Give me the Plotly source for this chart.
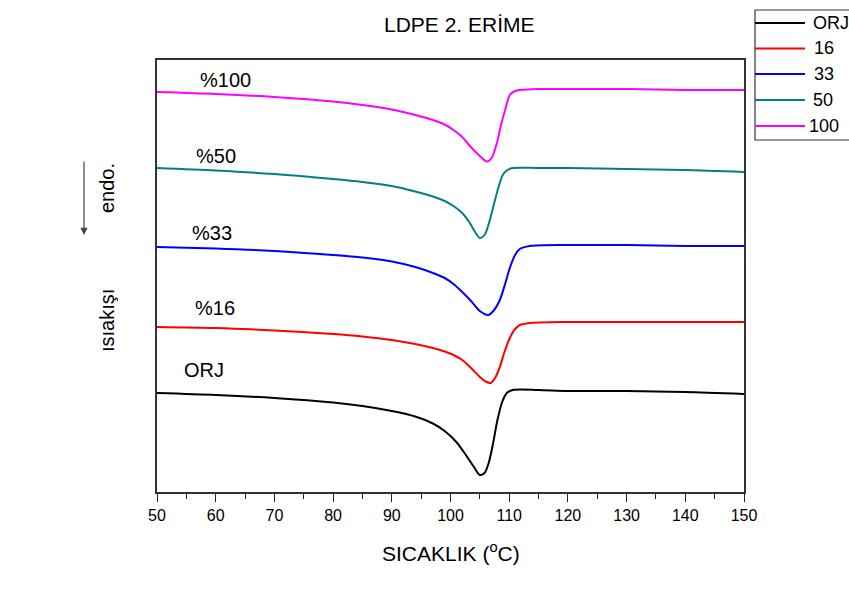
import plotly.graph_objects as go

# DSC second-melting curves of LDPE samples (heat flow, arbitrary units, stacked)
temp_orj = [50, 60, 70, 80, 85, 90, 94, 97, 99, 101, 102.5, 104, 105, 105.8, 106.5, 107.2, 108,
            108.8, 109.6, 110.6, 115, 120, 130, 140, 150]
flow_orj = [99, 97, 94, 89.5, 86, 81, 75.5, 68.5, 61, 50, 38, 25, 17, 19, 29, 47, 72,
            90, 99, 102, 102, 101, 101, 100, 98]

temp_16 = [50, 60, 70, 80, 85, 90, 94, 97, 99, 100.5, 102, 103.5, 105, 106, 106.8, 107.6, 108.4,
           109.2, 110.1, 111, 111.8, 113.5, 120, 130, 140, 150]
flow_16 = [165, 164, 161.5, 158, 155.5, 152, 148, 144, 140.5, 137, 132, 124, 115, 110.5, 109,
           114, 125, 140, 154, 163, 167, 169, 170, 170, 170, 170]

temp_33 = [50, 60, 70, 80, 85, 90, 94, 97, 99, 100.5, 102, 103.5, 105, 106.4, 107.3, 108.4,
           109.3, 110.1, 111, 111.8, 113.5, 120, 130, 140, 150]
flow_33 = [245, 243.5, 241, 237, 234.5, 230.5, 225, 219, 214, 208, 200, 191, 181, 177, 181,
           192, 208, 224, 237, 243, 246, 247, 247, 246, 246]

temp_50 = [50, 60, 70, 80, 85, 90, 94, 97, 99, 100.5, 102, 103.3, 104.3, 105, 105.8, 106.7,
           107.9, 108.9, 109.7, 110.6, 115, 120, 130, 140, 150]
flow_50 = [324, 321.5, 318, 313, 310, 306, 300.5, 295.5, 291, 286, 279, 269, 259, 254, 257,
           272, 299, 317, 322, 324, 324, 324, 323, 322, 320]

temp_100 = [50, 60, 70, 80, 85, 90, 94, 97, 99, 100.5, 102, 103.3, 105, 106.2, 107, 107.9,
            108.6, 109.3, 110.1, 111, 111.8, 115, 120, 130, 140, 150]
flow_100 = [400, 398, 395, 390.5, 387, 382.5, 377, 372, 367.5, 362, 355, 346, 336, 330.5, 334,
            349, 367, 382, 397, 401, 402, 403, 403, 403, 402, 402]

series_names = ["ORJ", "16", "33", "50", "100"]
series_temps = [temp_orj, temp_16, temp_33, temp_50, temp_100]
series_flows = [flow_orj, flow_16, flow_33, flow_50, flow_100]
series_colors = ["#000000", "#FF0000", "#0000FF", "#008080", "#FF00FF"]

# In-plot curve labels: text, start temperature, heat-flow level
label_texts = ["%100", "%50", "%33", "%16", "ORJ"]
label_x = [57.0, 56.3, 55.6, 56.1, 54.3]
label_y = [412, 336, 259, 184, 122]

x_ticks = [50, 60, 70, 80, 90, 100, 110, 120, 130, 140, 150]

FONT = "Arial, Liberation Sans, sans-serif"

# Figure geometry (pixels) used for the decorations placed outside the axes
W, H = 849, 589
ML, MR, MT, MB = 157, 105, 60, 97
PW, PH = W - ML - MR, H - MT - MB


def px_x(px):
    return (px - ML) / PW


def px_y(py):
    return (H - MB - py) / PH


fig = go.Figure()
for name, t, f, c in zip(series_names, series_temps, series_flows, series_colors):
    fig.add_trace(go.Scatter(
        x=t, y=f, name=name, mode="lines", showlegend=False,
        line=dict(color=c, width=2, shape="spline", smoothing=0.8),
    ))

annotations = []
for txt, lx, ly in zip(label_texts, label_x, label_y):
    annotations.append(dict(
        x=lx, y=ly, xref="x", yref="y", text=txt, showarrow=False,
        xanchor="left", yanchor="middle", font=dict(family=FONT, size=20, color="black"),
    ))

annotations += [
    dict(x=px_x(459), y=px_y(24), xref="paper", yref="paper", text="LDPE 2. ERİME",
         showarrow=False, xanchor="center", yanchor="middle",
         font=dict(family=FONT, size=21, color="black")),
    dict(x=px_x(451), y=px_y(552), xref="paper", yref="paper", text="SICAKLIK (<sup>o</sup>C)",
         showarrow=False, xanchor="center", yanchor="middle",
         font=dict(family=FONT, size=21, color="black")),
    dict(x=px_x(107), y=px_y(188), xref="paper", yref="paper", text="endo.", textangle=-90,
         showarrow=False, xanchor="center", yanchor="middle",
         font=dict(family=FONT, size=20, color="black")),
    dict(x=px_x(107), y=px_y(321), xref="paper", yref="paper", text="ısıakışı", textangle=-90,
         showarrow=False, xanchor="center", yanchor="middle",
         font=dict(family=FONT, size=20, color="black")),
    dict(x=px_x(84), y=px_y(235), xref="paper", yref="paper", text="", showarrow=True,
         ax=0, ay=-75, arrowhead=2, arrowsize=1.2, arrowwidth=1.2, arrowcolor="#444444"),
]

# Boxed legend at the top-right corner
shapes = [dict(type="rect", xref="paper", yref="paper",
               x0=px_x(755), x1=px_x(870), y0=px_y(140), y1=px_y(10),
               line=dict(color="#333333", width=1.2), fillcolor="white", layer="above")]
legend_rows = [23, 48.5, 74, 100, 126]
legend_text_x = [811, 812, 812, 811, 807]
for name, c, ry, tx in zip(series_names, series_colors, legend_rows, legend_text_x):
    shapes.append(dict(type="line", xref="paper", yref="paper",
                       x0=px_x(755), x1=px_x(805), y0=px_y(ry), y1=px_y(ry),
                       line=dict(color=c, width=2), layer="above"))
    annotations.append(dict(x=px_x(tx), y=px_y(ry), xref="paper", yref="paper", text=name,
                            showarrow=False, xanchor="left", yanchor="middle",
                            font=dict(family=FONT, size=18, color="black")))

fig.update_layout(
    width=W, height=H,
    margin=dict(l=ML, r=MR, t=MT, b=MB, autoexpand=False),
    paper_bgcolor="white", plot_bgcolor="white",
    font=dict(family=FONT, color="black"),
    showlegend=False,
    annotations=annotations,
    shapes=shapes,
)

fig.update_xaxes(
    range=[50, 150], tickvals=x_ticks, ticktext=[str(v) for v in x_ticks],
    ticks="outside", ticklen=8, tickwidth=1.2, tickcolor="#222222",
    minor=dict(dtick=5, tick0=50, ticks="outside", ticklen=5, tickwidth=1.2, tickcolor="#222222"),
    showline=True, linecolor="#333333", linewidth=1.5, mirror=True,
    showgrid=False, zeroline=False,
    tickfont=dict(family=FONT, size=16, color="black"),
)
fig.update_yaxes(
    range=[0, 432], showline=True, linecolor="#333333", linewidth=1.5, mirror=True,
    showticklabels=False, ticks="", showgrid=False, zeroline=False,
)

fig.write_html("out.html")
